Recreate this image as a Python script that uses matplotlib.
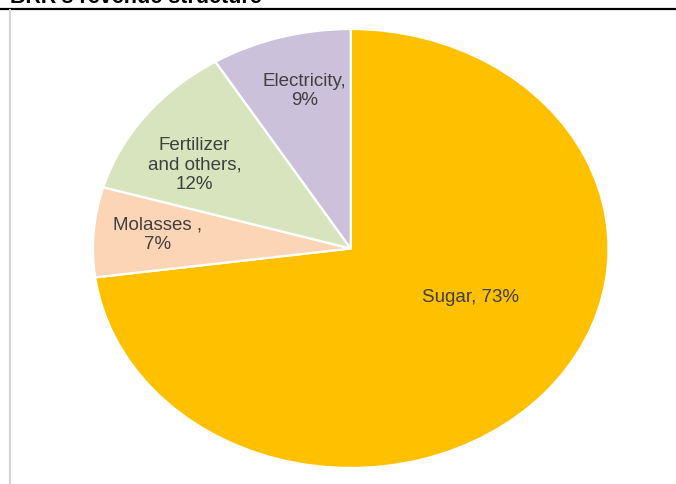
import matplotlib.pyplot as plt
from matplotlib.lines import Line2D

# DATA (shares, label text rounded like the original)
segments = ["Sugar", "Molasses ", "Fertilizer\nand others", "Electricity"]
shares = [72.9, 6.6, 11.7, 8.8]
colors = ["#FFC000", "#FBD5B5", "#D7E4BD", "#CCC1DA"]

# label anchor spots inside each wedge (axes data units, pie radius = 1)
label_pos = [(0.466, -0.221), (-0.750, 0.062), (-0.606, 0.380), (-0.179, 0.718)]
label_sep = [" ", "\n", "\n", "\n"]

plt.rcParams["font.family"] = ["Liberation Sans", "DejaVu Sans"]

fig = plt.figure(figsize=(6.76, 4.84), dpi=100)

# the original picture is stretched sideways, so the pie is an ellipse
ax = fig.add_axes([93 / 676, 16 / 484, 515.5 / 676, 439 / 484])
wedges, _ = ax.pie(shares, colors=colors, startangle=90, counterclock=False,
                   radius=1.0, wedgeprops=dict(edgecolor="white", linewidth=1.6))
ax.set_aspect("auto")
ax.set_xlim(-1, 1)
ax.set_ylim(-1, 1)
ax.axis("off")

for name, val, sep, (lx, ly) in zip(segments, shares, label_sep, label_pos):
    ax.text(lx, ly, f"{name},{sep}{round(val)}%", ha="center", va="center",
            fontsize=13.5, color="#404040", linespacing=1.2)

# title (cut off at the top in the original) and frame lines
fig.text(10 / 676, 1 - 3 / 484, "BRR's revenue structure", fontsize=15.5,
         fontweight="bold", color="black", va="baseline", ha="left")
fig.add_artist(Line2D([0, 1], [1 - 8.5 / 484, 1 - 8.5 / 484],
                      color="black", linewidth=1.6, transform=fig.transFigure))
fig.add_artist(Line2D([10 / 676, 10 / 676], [0, 1 - 10 / 484],
                      color="#D4D4D4", linewidth=1.5, transform=fig.transFigure))

fig.savefig("out.png", dpi=100)
